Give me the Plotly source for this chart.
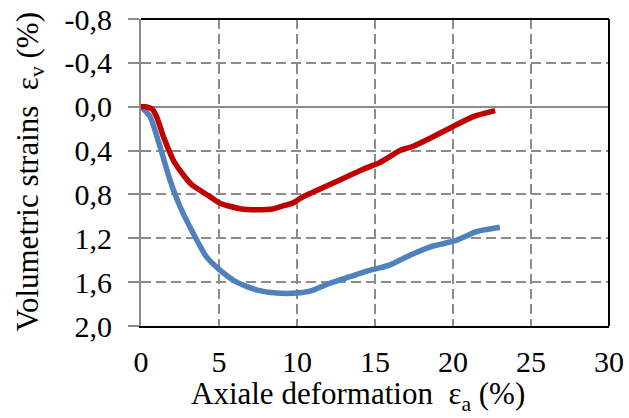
import plotly.graph_objects as go

# ---- data ----
red_x = [0.0, 0.3, 0.7, 1.0, 1.43, 2.08, 2.6, 3.24, 4.42, 5.06, 6.35, 7.4, 8.5, 9.2, 9.77,
         10.4, 12.1, 14.25, 15.3, 16.0, 16.6, 17.45, 18.5, 20.0, 21.3, 22.7]
red_y = [0.0, 0.0, 0.02, 0.09, 0.27, 0.49, 0.60, 0.71, 0.82, 0.88, 0.93, 0.94, 0.93, 0.90, 0.875,
         0.82, 0.71, 0.57, 0.51, 0.45, 0.40, 0.36, 0.29, 0.18, 0.09, 0.036]

blue_x = [0.0, 0.58, 1.22, 1.86, 2.5, 3.35, 4.2, 5.06, 6.13, 7.4, 8.7, 9.98, 10.9, 12.1,
          13.4, 14.7, 15.3, 16.0, 17.0, 18.5, 20.2, 21.5, 23.0]
blue_y = [0.0, 0.09, 0.365, 0.67, 0.91, 1.155, 1.37, 1.49, 1.60, 1.67, 1.70, 1.70, 1.68, 1.61,
          1.55, 1.49, 1.47, 1.44, 1.37, 1.28, 1.22, 1.14, 1.10]

x_ticks = [0, 5, 10, 15, 20, 25, 30]
y_ticks = [-0.8, -0.4, 0.0, 0.4, 0.8, 1.2, 1.6, 2.0]
y_ticktext = ["-0,8", "-0,4", "0,0", "0,4", "0,8", "1,2", "1,6", "2,0"]

x_title = "Axiale deformation&nbsp;&nbsp;ε<sub>a</sub> (%)"
y_title = "Volumetric strains&nbsp;&nbsp;ε<sub>v</sub> (%)"

GRID = "#8c8c8c"
FONT = "Liberation Serif, Times New Roman, serif"

W, H = 629, 418
ML, MT, PW, PH = 141, 19, 468, 307

fig = go.Figure()
fig.add_trace(go.Scatter(x=blue_x, y=blue_y, mode="lines",
                         line=dict(color="#4F81BD", width=5.5, shape="spline", smoothing=0.6)))
fig.add_trace(go.Scatter(x=red_x, y=red_y, mode="lines",
                         line=dict(color="#C00000", width=5.5, shape="spline", smoothing=0.6)))

fig.update_layout(
    width=W, height=H,
    margin=dict(l=ML, r=W - ML - PW, t=MT, b=H - MT - PH, pad=0),
    plot_bgcolor="white", paper_bgcolor="white",
    showlegend=False,
    font=dict(family=FONT, size=30, color="black"),
    xaxis=dict(range=[0, 30], tickvals=x_ticks, showgrid=True, gridcolor=GRID, gridwidth=1.5,
               griddash="10px,5px", showline=True, linecolor="black", linewidth=2,
               ticks="", zeroline=False, ticklabelstandoff=8, automargin=False,
               tickfont=dict(family=FONT, size=30, color="black")),
    yaxis=dict(range=[2.0, -0.8], tickvals=y_ticks, ticktext=y_ticktext, showgrid=True,
               gridcolor=GRID, gridwidth=1.5, griddash="10px,5px",
               zeroline=True, zerolinecolor=GRID, zerolinewidth=2,
               showline=True, linecolor=GRID, linewidth=2,
               ticks="outside", ticklen=11, tickcolor=GRID, tickwidth=2,
               ticklabelstandoff=10, automargin=False,
               tickfont=dict(family=FONT, size=30, color="black")),
    shapes=[
        dict(type="line", xref="paper", yref="paper", x0=0, x1=1, y0=1, y1=1,
             line=dict(color="black", width=2)),
        dict(type="line", xref="paper", yref="paper", x0=1, x1=1, y0=0, y1=1,
             line=dict(color="black", width=2)),
    ],
    annotations=[
        dict(text=x_title, xref="paper", yref="paper", x=(358 - ML) / PW, y=(326 - 396) / PH,
             xanchor="center", yanchor="middle", showarrow=False, font=dict(family=FONT, size=31)),
        dict(text=y_title, xref="paper", yref="paper", x=(29 - ML) / PW, y=0.5, textangle=-90,
             xanchor="center", yanchor="middle", showarrow=False, font=dict(family=FONT, size=31)),
    ],
)

fig.write_html("out.html", config={"displayModeBar": False},
               post_script="document.body.style.margin='0px';")
